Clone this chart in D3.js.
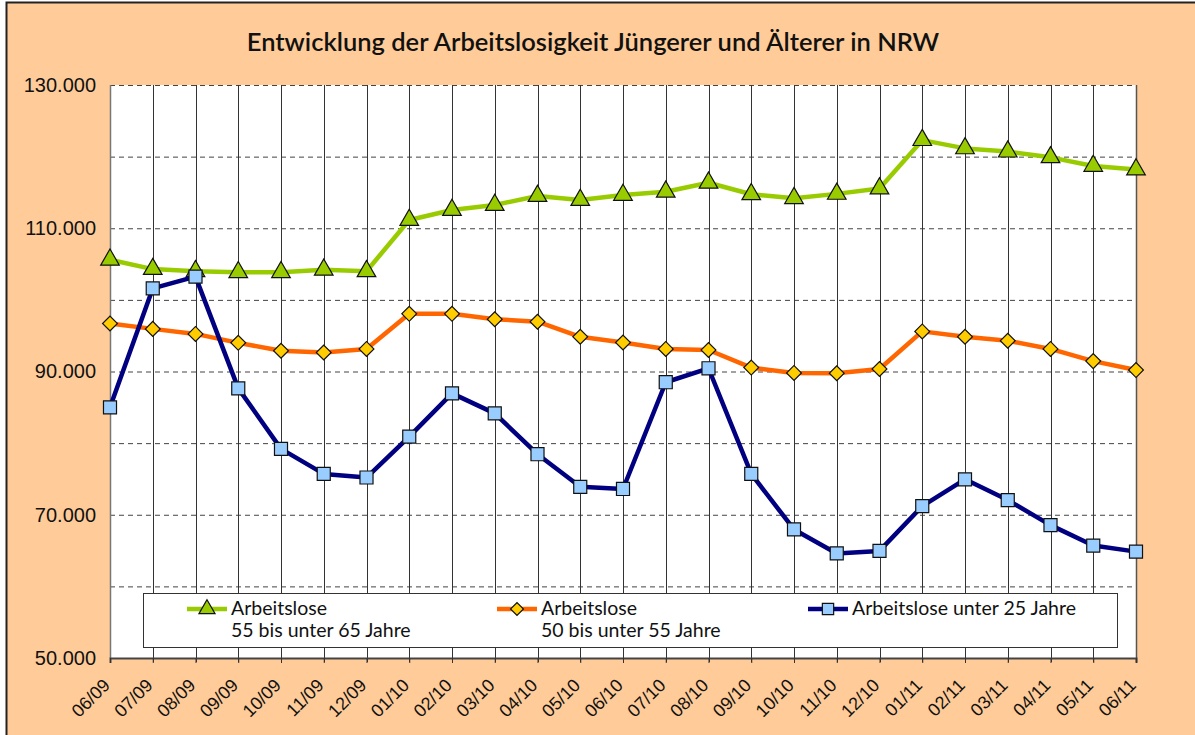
<!DOCTYPE html>
<html>
<head>
<meta charset="utf-8">
<script src="https://cdn.jsdelivr.net/npm/d3@7"></script>
<style>
  body { margin: 0; background: #fff; }
  svg { display: block; font-family: "Lato", "DejaVu Sans", sans-serif; }
</style>
</head>
<body>
<svg id="chart"></svg>
<script>
var months = ["06/09", "07/09", "08/09", "09/09", "10/09", "11/09", "12/09",
    "01/10", "02/10", "03/10", "04/10", "05/10", "06/10", "07/10", "08/10",
    "09/10", "10/10", "11/10", "12/10", "01/11", "02/11", "03/11", "04/11",
    "05/11", "06/11"];

var age55to65 = [105600, 104300, 104000, 103850, 103850, 104200, 104000,
    111150, 112550, 113250, 114500, 113950, 114650, 115100, 116350,
    114750, 114200, 114800, 115550, 122300, 121150, 120700, 119900,
    118700, 118200];

var age50to55 = [96700, 95950, 95250, 94000, 92900, 92650, 93150,
    98050, 98050, 97300, 96950, 94850, 94050, 93150, 93000,
    90550, 89800, 89750, 90350, 95600, 94850, 94300, 93150,
    91450, 90200];

var under25 = [85000, 101600, 103250, 87650, 79200, 75700, 75200,
    80900, 86950, 84150, 78450, 73900, 73600, 88500, 90450,
    75700, 67950, 64600, 64950, 71200, 74950, 72050, 68550,
    65700, 64850];

var yTicks = [50000, 70000, 90000, 110000, 130000];
var yGrid = [60000, 70000, 80000, 90000, 100000, 110000, 120000, 130000];

var series = [
    {name: ["Arbeitslose", "55 bis unter 65 Jahre"], values: age55to65, line: "#99cc00", fill: "#99cc00", shape: d3.symbolTriangle, size: 150, rot: 0, legendX: 187},
    {name: ["Arbeitslose", "50 bis unter 55 Jahre"], values: age50to55, line: "#ff6600", fill: "#ffcc00", shape: d3.symbolSquare, size: 110, rot: 45, legendX: 497},
    {name: ["Arbeitslose unter 25 Jahre"], values: under25, line: "#000080", fill: "#99ccff", shape: d3.symbolSquare, size: 170, rot: 0, legendX: 808}
];

var width = 1195, height = 735;
var margin = {left: 110, right: 59, top: 85, bottom: 77};
var w = width - margin.left - margin.right;
var h = height - margin.top - margin.bottom;

var svg = d3.select("#chart")
    .attr("width", width)
    .attr("height", height);

// background with frame
svg.append("rect")
    .attr("x", 6.5).attr("y", 2.5)
    .attr("width", width).attr("height", height)
    .attr("fill", "#ffcc99")
    .attr("stroke", "#222")
    .attr("stroke-width", 2);

svg.append("text")
    .attr("x", 593)
    .attr("y", 51)
    .attr("text-anchor", "middle")
    .style("font-size", "25.5px")
    .style("font-weight", "600")
    .attr("fill", "#111")
    .text("Entwicklung der Arbeitslosigkeit Jüngerer und Älterer in NRW");

var g = svg.append("g")
    .attr("transform", "translate(" + [margin.left, margin.top] + ")");

var x = d3.scalePoint()
    .domain(months)
    .range([0, w]);

var y = d3.scaleLinear()
    .domain([50000, 130000])
    .range([h, 0]);

g.append("rect")
    .attr("width", w).attr("height", h)
    .attr("fill", "#fff");

// horizontal dashed grid
g.append("g").selectAll("line")
    .data(yGrid)
    .enter()
    .append("line")
    .attr("x1", 0).attr("x2", w)
    .attr("y1", function (d) { return y(d) + 0.5; })
    .attr("y2", function (d) { return y(d) + 0.5; })
    .attr("stroke", "#444")
    .attr("stroke-width", 1)
    .attr("stroke-dasharray", "5,4");

// vertical grid lines
g.append("g").selectAll("line")
    .data(months.slice(1))
    .enter()
    .append("line")
    .attr("x1", function (d) { return Math.round(x(d)) + 0.5; })
    .attr("x2", function (d) { return Math.round(x(d)) + 0.5; })
    .attr("y1", 0).attr("y2", h + 4)
    .attr("stroke", "#333")
    .attr("stroke-width", 1);

// left and right borders
g.append("line")
    .attr("x1", 0.5).attr("x2", 0.5).attr("y1", 0).attr("y2", h)
    .attr("stroke", "#777").attr("stroke-width", 1.5);
g.append("line")
    .attr("x1", w + 0.5).attr("x2", w + 0.5).attr("y1", 0).attr("y2", h + 4)
    .attr("stroke", "#555").attr("stroke-width", 1.5);

// x axis
var xAxis = d3.axisBottom(x)
    .tickSize(5)
    .tickPadding(8);

var xg = g.append("g")
    .attr("transform", "translate(0," + h + ")")
    .call(xAxis);
xg.select(".domain").attr("stroke", "#444").attr("stroke-width", 2);
xg.selectAll(".tick line").attr("stroke", "#333");
xg.selectAll("text")
    .style("font-size", "18px")
    .attr("fill", "#111")
    .attr("text-anchor", "end")
    .attr("x", 0)
    .attr("y", 0)
    .attr("dy", "0.35em")
    .attr("transform", "translate(-4,24) rotate(-45)");

// y axis labels
var yAxis = d3.axisLeft(y)
    .tickValues(yTicks)
    .tickSize(0)
    .tickPadding(14)
    .tickFormat(function (d) { return d3.format(",")(d).replace(/,/g, "."); });

var yg = g.append("g").call(yAxis);
yg.select(".domain").remove();
yg.selectAll("text")
    .style("font-size", "20px")
    .attr("fill", "#111");

// lines and markers
var line = d3.line()
    .x(function (d, i) { return x(months[i]); })
    .y(function (d) { return y(d); });

series.forEach(function (s) {
    g.append("path")
        .datum(s.values)
        .attr("fill", "none")
        .attr("stroke", s.line)
        .attr("stroke-width", 4.5)
        .attr("stroke-linejoin", "round")
        .attr("d", line);

    g.append("g").selectAll("path")
        .data(s.values)
        .enter()
        .append("path")
        .attr("transform", function (d, i) {
            return "translate(" + x(months[i]) + "," + y(d) + ") rotate(" + s.rot + ")";
        })
        .attr("d", d3.symbol().type(s.shape).size(s.size))
        .attr("fill", s.fill)
        .attr("stroke", "#111")
        .attr("stroke-width", 1.2);
});

// legend
var legend = svg.append("g");
legend.append("rect")
    .attr("x", 143.5).attr("y", 593.5)
    .attr("width", 974).attr("height", 54)
    .attr("fill", "#fff")
    .attr("stroke", "#333")
    .attr("stroke-width", 1);

series.forEach(function (s) {
    var lg = legend.append("g")
        .attr("transform", "translate(" + s.legendX + ",609)");
    lg.append("line")
        .attr("x1", 0).attr("x2", 40)
        .attr("stroke", s.line)
        .attr("stroke-width", 4.5);
    lg.append("path")
        .attr("transform", "translate(20,0) rotate(" + s.rot + ")")
        .attr("d", d3.symbol().type(s.shape).size(s.size * 0.75))
        .attr("fill", s.fill)
        .attr("stroke", "#111")
        .attr("stroke-width", 1.2);
    s.name.forEach(function (t, k) {
        lg.append("text")
            .attr("x", 44)
            .attr("y", 6 + k * 22)
            .style("font-size", "19.5px")
            .attr("fill", "#111")
            .text(t);
    });
});
</script>
</body>
</html>
